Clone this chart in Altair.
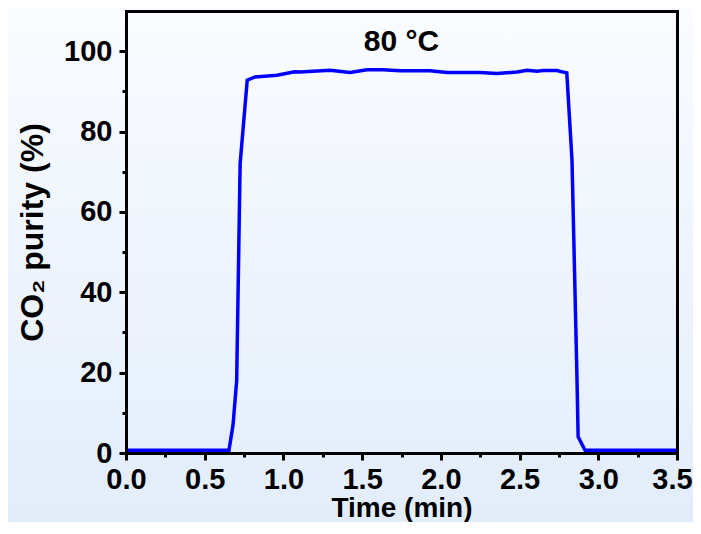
import altair as alt
import pandas as pd

# ---- data ----
time_min = [0.0, 0.30, 0.654, 0.68, 0.703, 0.725, 0.77, 0.82, 0.96, 1.07, 1.105,
            1.296, 1.423, 1.531, 1.633, 1.741, 1.931, 2.04, 2.25, 2.357, 2.484,
            2.548, 2.611, 2.649, 2.738, 2.776, 2.80, 2.833, 2.865, 2.872, 2.916,
            3.2, 3.5]
purity = [0.7, 0.7, 0.7, 7.0, 18.0, 72.0, 92.8, 93.6, 94.0, 94.9, 94.85,
          95.27, 94.7, 95.35, 95.35, 95.1, 95.1, 94.7, 94.7, 94.45, 94.8,
          95.27, 95.0, 95.2, 95.2, 94.8, 94.6, 72.9, 18.0, 4.0, 0.7,
          0.7, 0.7]

x_major = [0.0, 0.5, 1.0, 1.5, 2.0, 2.5, 3.0, 3.5]
x_minor = [0.25, 0.75, 1.25, 1.75, 2.25, 2.75, 3.25]
y_major = [0, 20, 40, 60, 80, 100]
y_minor = [10, 30, 50, 70, 90]

annot_x = [1.75]
annot_y = [100]
annot_text = ["80 °C"]

x_title = "Time (min)"
y_title = "CO₂ purity (%)"

df = pd.DataFrame({"t": time_min, "p": purity})
ann = pd.DataFrame({"x": annot_x, "y": annot_y, "label": annot_text})

FONT = "Liberation Sans"
W, H = 551, 442
PAD = {"left": 118, "top": 3, "right": 16, "bottom": 69}

xscale = alt.Scale(domain=[0, 3.5], nice=False, zero=False)
yscale = alt.Scale(domain=[0, 110], nice=False, zero=False)

common = dict(domainColor="black", domainWidth=3, tickColor="black", tickWidth=3,
              grid=False, zindex=1, domainCap="square")

x_major_axis = alt.Axis(orient="bottom", values=x_major, format=".1f", tickSize=7,
                        labelFont=FONT, labelFontSize=29, labelFontWeight="bold",
                        labelColor="black", labelPadding=5, labelFlush=False,
                        labelOverlap=False,
                        labelOffset={"condition": {"test": "datum.value === 3.5",
                                                   "value": -5}, "value": 0},
                        title=x_title, titleFont=FONT, titleFontSize=28,
                        titleFontWeight="bold", titleColor="black",
                        titleY=63, titleBaseline="alphabetic",
                        **common)
y_major_axis = alt.Axis(orient="left", values=y_major, format="d", tickSize=7,
                        labelFont=FONT, labelFontSize=29, labelFontWeight="bold",
                        labelColor="black", labelPadding=7, labelFlush=False,
                        labelOverlap=False,
                        title=y_title, titleFont=FONT, titleFontSize=32,
                        titleFontWeight="bold", titleColor="black",
                        titleX=-84, titleBaseline="alphabetic",
                        **common)
x_minor_axis = alt.Axis(orient="bottom", values=x_minor, tickSize=4, labels=False,
                        title=None, domain=False, **common)
y_minor_axis = alt.Axis(orient="left", values=y_minor, tickSize=4, labels=False,
                        title=None, domain=False, **common)
x_top_axis = alt.Axis(orient="top", ticks=False, labels=False, title=None, **common)
y_right_axis = alt.Axis(orient="right", ticks=False, labels=False, title=None, **common)

grad = alt.LinearGradient(
    gradient="linear",
    stops=[alt.GradientStop(color="#fafcff", offset=0),
           alt.GradientStop(color="#e2edfb", offset=1)],
    x1=0, x2=0, y1=0, y2=1,
)

bg = alt.Chart(pd.DataFrame({"d": [0]})).mark_rect(color=grad).encode(
    x=alt.value(-PAD["left"]), x2=alt.value(W + PAD["right"]),
    y=alt.value(-PAD["top"]), y2=alt.value(H + PAD["bottom"]),
)

line = alt.Chart(df).mark_line(color="#0000ff", strokeWidth=3.5).encode(
    x=alt.X("t:Q", scale=xscale, axis=x_major_axis),
    y=alt.Y("p:Q", scale=yscale, axis=y_major_axis),
)

minor = alt.Chart(df).mark_line(opacity=0).encode(
    x=alt.X("t:Q", scale=xscale, axis=x_minor_axis),
    y=alt.Y("p:Q", scale=yscale, axis=y_minor_axis),
)

frame = alt.Chart(df).mark_line(opacity=0).encode(
    x=alt.X("t:Q", scale=xscale, axis=x_top_axis),
    y=alt.Y("p:Q", scale=yscale, axis=y_right_axis),
)

text = alt.Chart(ann).mark_text(font=FONT, fontSize=30, fontWeight="bold",
                                color="black", align="center",
                                baseline="alphabetic").encode(
    x=alt.X("x:Q", scale=xscale, axis=None),
    y=alt.Y("y:Q", scale=yscale, axis=None),
    text="label:N",
)

chart = alt.layer(bg, line, minor, frame, text).resolve_axis(
    x="independent", y="independent"
).properties(
    width=W, height=H,
    autosize=alt.AutoSizeParams(type="none"),
    padding=PAD,
    background="#e2edfb",
).configure_view(stroke=None)

chart.save("out.html", embed_options={"renderer": "svg", "actions": False})
